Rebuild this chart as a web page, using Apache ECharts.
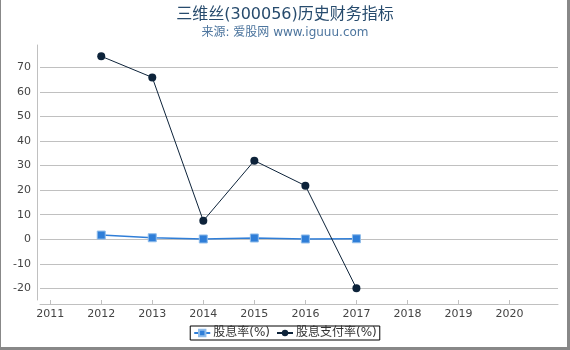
<!DOCTYPE html>
<html>
<head>
<meta charset="utf-8">
<script src="https://cdn.jsdelivr.net/npm/echarts@6/dist/echarts.min.js"></script>
<style>
html,body{margin:0;padding:0;background:#fff;}
#c{width:570px;height:350px;}
</style>
</head>
<body>
<div id="c"></div>
<script>
var years = [2012, 2013, 2014, 2015, 2016, 2017];
var dividendYield = [1.7, 0.6, 0.1, 0.5, 0.1, 0.2];
var payoutRatio = [74.5, 65.9, 7.5, 32.0, 21.8, -20.0];
var xTicks = [2011, 2012, 2013, 2014, 2015, 2016, 2017, 2018, 2019, 2020];
var yTicks = [-20, -10, 0, 10, 20, 30, 40, 50, 60, 70];
var seriesNames = ['股息率(%)', '股息支付率(%)'];

function pairs(xs, ys) { return xs.map(function (x, i) { return [x, ys[i]]; }); }

var chart = echarts.init(document.getElementById('c'), null, {renderer: 'canvas'});
chart.setOption({
  animation: false,
  backgroundColor: '#fff',
  title: [{
    text: '三维丝(300056)历史财务指标',
    left: 'center', top: 2,
    textStyle: {fontFamily: 'DejaVu Sans, Noto Sans CJK SC', fontSize: 16, fontWeight: 'normal', color: '#274b6d'}
  }, {
    text: '来源: 爱股网 www.iguuu.com',
    left: 'center', top: 22,
    textStyle: {fontFamily: 'DejaVu Sans, Noto Sans CJK SC', fontSize: 12, fontWeight: 'normal', color: '#4d759e'}
  }],
  legend: {
    left: 'center', top: 326,
    padding: [1, 3], itemGap: 6, itemWidth: 16, itemHeight: 8,
    borderColor: '#000', borderWidth: 1, borderRadius: 0,
    textStyle: {fontFamily: 'DejaVu Sans, Noto Sans CJK SC', fontSize: 12, color: '#333', lineHeight: 12, padding: [0,0,0,-2]},
    data: seriesNames
  },
  grid: {left: 40, right: 12, top: 45, bottom: 50, containLabel: false},
  xAxis: {
    type: 'value', min: 2010.8, max: 2020.95, offset: 4,
    axisLine: {show: true, onZero: false, lineStyle: {color: '#c0c0c0', width: 1}},
    axisTick: {show: true, inside: true, length: 4, customValues: xTicks, lineStyle: {color: '#c0c0c0'}},
    axisLabel: {customValues: xTicks, color: '#444', fontSize: 11, fontFamily: 'DejaVu Sans', margin: 5,
      formatter: function (v) { return String(v); }},
    splitLine: {show: false}
  },
  yAxis: {
    type: 'value', min: -24.75, max: 79.1, offset: 3,
    axisLine: {show: true, onZero: false, lineStyle: {color: '#c0c0c0', width: 1}},
    axisTick: {show: false, customValues: yTicks},
    axisLabel: {customValues: yTicks, color: '#444', fontSize: 11, fontFamily: 'DejaVu Sans', margin: 6},
    splitLine: {show: true, lineStyle: {color: '#c0c0c0', width: 1}}
  },
  series: [{
    name: seriesNames[0], type: 'line',
    data: pairs(years, dividendYield),
    symbol: 'rect', symbolSize: 8,
    itemStyle: {color: '#2f7ed8', borderColor: '#8fbcea', borderWidth: 1},
    lineStyle: {color: '#2f7ed8', width: 1.5}
  }, {
    name: seriesNames[1], type: 'line',
    data: pairs(years, payoutRatio),
    symbol: 'circle', symbolSize: 8,
    itemStyle: {color: '#0d233a'},
    lineStyle: {color: '#0d233a', width: 1}
  }],
  graphic: [
    {type: 'rect', shape: {x: 0, y: 0, width: 1, height: 350}, style: {fill: '#888'}, silent: true},
    {type: 'rect', shape: {x: 567, y: 0, width: 3, height: 350}, style: {fill: '#888'}, silent: true},
    {type: 'rect', shape: {x: 0, y: 347, width: 570, height: 3}, style: {fill: '#888'}, silent: true}
  ]
});
</script>
</body>
</html>
